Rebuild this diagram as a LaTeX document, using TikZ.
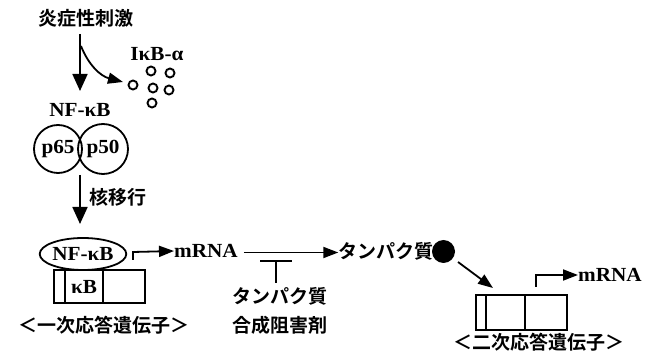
\documentclass[tikz,border=0pt]{standalone}
\usepackage{fontspec}
\usetikzlibrary{arrows.meta,shapes.geometric}
\newfontfamily\jp{Noto Sans CJK JP Bold}
\newfontfamily\ser[FakeStretch=1.06]{Liberation Serif}
\tikzset{
  jp/.style={font=\jp\fontsize{19}{23}\selectfont, inner sep=0pt},
  lat/.style={font=\ser\bfseries\fontsize{20}{24}\selectfont, inner sep=0pt},
  ln/.style={line width=1.8pt},
  arr/.style={ln, -{Triangle[length=15pt,width=11pt]}},
  bigarr/.style={ln, -{Triangle[length=17pt,width=15pt]}},
  dot/.style={circle, draw, line width=1.9pt, minimum size=9pt, inner sep=0pt},
}
\begin{document}
\begin{tikzpicture}[x=1pt,y=-1pt]
\useasboundingbox (0,0) rectangle (651,358);
% top
\node[jp] (stim) at (86,18) {炎症性刺激};
\node[lat] (ikb) at (157,54) {IκB-α};
\node[lat] (nfl) at (80,110) {NF-κB};
\coordinate (s1) at (80,34);
\coordinate (s2) at (81,46);
\coordinate (cend) at (123,82);
\draw[bigarr] (s1) -- (80,91);
\draw[arr] (s2) .. controls (88,64) and (100,76) .. (cend);
% small circles
\node[dot] (d1) at (133,85) {};
\node[dot] (d2) at (151,71) {};
\node[dot] (d3) at (170,73) {};
\node[dot] (d4) at (153,88) {};
\node[dot] (d5) at (169,90) {};
\node[dot] (d6) at (152,103) {};
% dimer
\node[circle, draw, ln, minimum size=48pt, inner sep=0pt, lat] (p65) at (58,149) {p65};
\node[circle, draw, ln, minimum size=50pt, inner sep=0pt, lat] (p50) at (103,149) {p50};
\node[jp] (nuc) at (118,197) {核移行};
\coordinate (n1) at (80,175);
\draw[bigarr] (n1) -- (80,224);
% primary gene
\node[ellipse, draw, ln, minimum width=80pt, minimum height=32pt, inner sep=0pt, lat] (nfk) at (83,254) {NF-κB};
\draw[ln] (54,270) rectangle (145,303);
\draw[ln] (65,270) -- (65,303);
\draw[ln] (103,270) -- (103,303);
\node[lat] (kb) at (84,287) {κB};
\node[jp] (g1) at (104,325) {＜一次応答遺伝子＞};
\node[lat] (m1) at (206,251) {mRNA};
\coordinate (pr1) at (133,260);
\draw[arr] (pr1) -- (133,252) -- (m1.west);
% protein
\node[jp] (prot) at (386,251) {タンパク質};
\node[circle, fill=black, minimum size=23pt, inner sep=0pt] (ball) at (443.5,251.5) {};
\path (m1.east) ++(6,1.5) coordinate (ma);
\draw[arr] (ma) -- (prot.west |- ma);
% inhibitor
\node[jp, align=center] (inh) at (280,311) {タンパク質\\[6pt]合成阻害剤};
\coordinate (tb) at (276,261);
\draw[ln] (260,261) -- (292,261);
\draw[ln] (tb) -- (276,283);
% secondary gene
\draw[arr] (458,262) -- (493,288);
\draw[ln] (476,295) rectangle (567,330);
\draw[ln] (486,295) -- (486,330);
\draw[ln] (525,295) -- (525,330);
\node[lat] (m2) at (610,275) {mRNA};
\coordinate (pr2) at (536,287);
\draw[arr] (pr2) -- (536,275) -- (m2.west);
\node[jp] (g2) at (539,342) {＜二次応答遺伝子＞};
\end{tikzpicture}
\end{document}
